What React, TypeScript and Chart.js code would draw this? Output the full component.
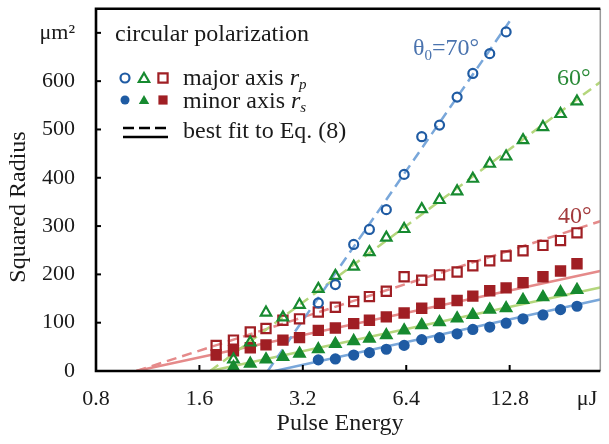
import React, { useEffect, useRef } from 'react';
import { Chart, registerables } from 'chart.js';

Chart.register(...registerables);

// Pulse energies (μJ) of the measurement points
const energy = [1.79, 2.01, 2.25, 2.5, 2.8, 3.13, 3.55, 3.98, 4.5, 5.0, 5.6, 6.31, 7.1, 8.0, 9.0, 10.0, 11.2, 12.5, 14.0, 16.0, 18.0, 20.1];

// θ0 = 40°, starting at energy index 0
const major40 = [53, 64, 81, 88, 105, 108, 122, 132, 144, 154, 165, 195, 188, 199, 205, 218, 228, 238, 249, 260, 270, 286];
const minor40 = [33, 42, 48, 54, 64, 69, 84, 89, 98, 105, 112, 120, 130, 140, 146, 155, 166, 172, 183, 195, 207, 222];
// θ0 = 60°, starting at energy index 1
const major60 = [24, 59, 121, 111, 137, 170, 197, 216, 246, 276, 294, 335, 354, 372, 398, 429, 444, 478, 505, 532, 558];
const minor60 = [8, 15, 24, 29, 36, 45, 56, 62, 67, 74, 84, 95, 101, 109, 116, 127, 130, 147, 153, 163, 168];
// θ0 = 70°, starting at energy index 6
const major70 = [141, 179, 262, 293, 334, 407, 485, 509, 567, 616, 657, 702];
const minor70 = [23, 25, 33, 38, 45, 53, 65, 69, 77, 86, 91, 99, 108, 116, 127, 134];

const start40 = 0;
const start60 = 1;
const start70 = 6;

// Best-fit lines (end points)
const fit40pX = [1.049, 23.5];
const fit40pY = [0, 310];
const fit40sX = [1.049, 23.5];
const fit40sY = [0, 207];
const fit60pX = [1.72, 23.5];
const fit60pY = [0, 598];
const fit60sX = [1.72, 23.5];
const fit60sY = [0, 173];
const fit70pX = [2.53, 12.8];
const fit70pY = [0, 724];
const fit70sX = [2.65, 23.5];
const fit70sY = [0, 148];

const xTickValues = [0.8, 1.6, 3.2, 6.4, 12.8, 21.5];
const xTickLabels = ['0.8', '1.6', '3.2', '6.4', '12.8', 'μJ'];
const yTickValues = [0, 100, 200, 300, 400, 500, 600, 700];
const yTickLabels = ['0', '100', '200', '300', '400', '500', '600', 'μm²'];

const FONT = '"Liberation Serif", "Times New Roman", serif';

const BLUE = '#1f5ba3';
const GREEN = '#178a30';
const RED = '#a01f24';
const BLUE_L = '#79a7da';
const GREEN_L = '#b4d67c';
const RED_L = '#e58a8a';

function pts(start: number, values: number[]) {
  return values.map((v, i) => ({ x: energy[start + i], y: v }));
}
function line(xs: number[], ys: number[]) {
  return xs.map((x, i) => ({ x, y: ys[i] }));
}

function drawMarker(ctx: CanvasRenderingContext2D, style: string, x: number, y: number, color: string, filled: boolean) {
  ctx.save();
  ctx.lineWidth = 2.2;
  ctx.strokeStyle = color;
  ctx.fillStyle = color;
  ctx.beginPath();
  if (style === 'circle') {
    ctx.arc(x, y, 4.5, 0, Math.PI * 2);
  } else if (style === 'triangle') {
    const r = 6;
    ctx.moveTo(x, y - r);
    ctx.lineTo(x + r * 0.866, y + r / 2);
    ctx.lineTo(x - r * 0.866, y + r / 2);
    ctx.closePath();
  } else {
    const s = 6.5 * Math.SQRT1_2;
    ctx.rect(x - s, y - s, 2 * s, 2 * s);
  }
  if (filled) ctx.fill();
  else ctx.stroke();
  ctx.restore();
}

function zeroPadding(scale: any) {
  scale.paddingTop = 0;
  scale.paddingBottom = 0;
  scale.paddingLeft = 0;
  scale.paddingRight = 0;
}

const decor = {
  id: 'decor',
  afterDatasetsDraw(chart: any) {
    const { ctx, chartArea, scales } = chart;
    const { left, right, top, bottom } = chartArea;
    const x = scales.x;
    const y = scales.y;
    ctx.save();
    // inner tick marks
    ctx.strokeStyle = '#000';
    ctx.lineWidth = 2;
    xTickValues.forEach((v, i) => {
      if (i === 0 || xTickLabels[i] === 'μJ') return;
      const px = x.getPixelForValue(v);
      ctx.beginPath();
      ctx.moveTo(px, bottom);
      ctx.lineTo(px, bottom - 6);
      ctx.stroke();
    });
    yTickValues.forEach((v, i) => {
      if (i === 0) return;
      const py = y.getPixelForValue(v);
      ctx.beginPath();
      ctx.moveTo(left, py);
      ctx.lineTo(left + 5, py);
      ctx.stroke();
    });
    // frame
    ctx.strokeStyle = '#999';
    ctx.lineWidth = 1.5;
    ctx.beginPath();
    ctx.moveTo(right, top);
    ctx.lineTo(right, bottom);
    ctx.stroke();
    ctx.strokeStyle = '#000';
    ctx.lineWidth = 2.6;
    ctx.beginPath();
    ctx.moveTo(right, top);
    ctx.lineTo(left, top);
    ctx.lineTo(left, bottom);
    ctx.lineTo(right, bottom);
    ctx.stroke();

    // legend
    ctx.fillStyle = '#1a1a1a';
    ctx.textBaseline = 'alphabetic';
    ctx.textAlign = 'left';
    ctx.font = `24px ${FONT}`;
    ctx.fillText('circular polarization', 115, 41);

    drawMarker(ctx, 'circle', 125, 78, BLUE, false);
    drawMarker(ctx, 'triangle', 144, 79, GREEN, false);
    drawMarker(ctx, 'rect', 163, 78, RED, false);
    drawMarker(ctx, 'circle', 125, 100, BLUE, true);
    drawMarker(ctx, 'triangle', 144, 101, GREEN, true);
    drawMarker(ctx, 'rect', 163, 100, RED, true);

    const rows: [string, string, number][] = [['major axis ', 'p', 85], ['minor axis ', 's', 108]];
    rows.forEach(([t, sub, by]) => {
      ctx.font = `24px ${FONT}`;
      ctx.fillText(t, 183, by);
      const w = ctx.measureText(t).width;
      ctx.font = `italic 24px ${FONT}`;
      ctx.fillText('r', 183 + w, by);
      const wr = ctx.measureText('r').width;
      ctx.font = `italic 15px ${FONT}`;
      ctx.fillText(sub, 183 + w + wr, by + 4);
    });
    ctx.font = `24px ${FONT}`;
    ctx.fillText('best fit to Eq. (8)', 183, 138);

    ctx.strokeStyle = '#000';
    ctx.lineWidth = 2.5;
    ctx.setLineDash([11, 5]);
    ctx.beginPath();
    ctx.moveTo(123, 128);
    ctx.lineTo(168, 128);
    ctx.stroke();
    ctx.setLineDash([]);
    ctx.beginPath();
    ctx.moveTo(123, 137);
    ctx.lineTo(168, 137);
    ctx.stroke();

    // annotations
    ctx.fillStyle = '#4a73ae';
    ctx.font = `24px ${FONT}`;
    ctx.fillText('θ', 413, 55);
    let ax = 413 + ctx.measureText('θ').width;
    ctx.font = `15px ${FONT}`;
    ctx.fillText('0', ax, 60);
    ax += ctx.measureText('0').width;
    ctx.font = `24px ${FONT}`;
    ctx.fillText('=70°', ax, 55);

    ctx.fillStyle = '#2a8a38';
    ctx.fillText('60°', 557, 85);
    ctx.fillStyle = '#a33a3c';
    ctx.fillText('40°', 558, 223);
    ctx.restore();
  },
  afterDraw(chart: any) {
    const { ctx } = chart;
    ctx.save();
    ctx.fillStyle = '#1a1a1a';
    ctx.font = `24px ${FONT}`;
    ctx.textAlign = 'center';
    ctx.textBaseline = 'middle';
    ctx.fillText('Pulse Energy', 340, 424);
    ctx.translate(19, 207);
    ctx.rotate(-Math.PI / 2);
    ctx.fillText('Squared Radius', 0, 0);
    ctx.restore();
  },
};

export default function App() {
  const ref = useRef<HTMLCanvasElement | null>(null);
  useEffect(() => {
    if (!ref.current) return;
    const markerBase = { showLine: false, pointBorderWidth: 2.2, order: 0 };
    const fitBase = { showLine: true, pointRadius: 0, borderWidth: 2.5, order: 10, fill: false };
    const chart = new Chart(ref.current, {
      type: 'scatter',
      data: {
        datasets: [
          { ...markerBase, label: '70 major', data: pts(start70, major70), pointStyle: 'circle', pointRadius: 4.5, borderColor: BLUE, backgroundColor: 'rgba(255,255,255,0)' },
          { ...markerBase, label: '70 minor', data: pts(start70, minor70), pointStyle: 'circle', pointRadius: 4.5, borderColor: BLUE, backgroundColor: BLUE },
          { ...markerBase, label: '60 major', data: pts(start60, major60), pointStyle: 'triangle', pointRadius: 6, borderColor: GREEN, backgroundColor: 'rgba(255,255,255,0)' },
          { ...markerBase, label: '60 minor', data: pts(start60, minor60), pointStyle: 'triangle', pointRadius: 6, borderColor: GREEN, backgroundColor: GREEN },
          { ...markerBase, label: '40 major', data: pts(start40, major40), pointStyle: 'rect', pointRadius: 6.5, borderColor: RED, backgroundColor: 'rgba(255,255,255,0)' },
          { ...markerBase, label: '40 minor', data: pts(start40, minor40), pointStyle: 'rect', pointRadius: 6.5, borderColor: RED, backgroundColor: RED },
          { ...fitBase, label: 'fit 70 p', data: line(fit70pX, fit70pY), borderColor: BLUE_L, borderDash: [10, 6] },
          { ...fitBase, label: 'fit 70 s', data: line(fit70sX, fit70sY), borderColor: BLUE_L },
          { ...fitBase, label: 'fit 60 p', data: line(fit60pX, fit60pY), borderColor: GREEN_L, borderDash: [10, 6] },
          { ...fitBase, label: 'fit 60 s', data: line(fit60sX, fit60sY), borderColor: GREEN_L },
          { ...fitBase, label: 'fit 40 p', data: line(fit40pX, fit40pY), borderColor: RED_L, borderDash: [10, 6] },
          { ...fitBase, label: 'fit 40 s', data: line(fit40sX, fit40sY), borderColor: RED_L },
        ] as any,
      },
      options: {
        animation: false,
        responsive: true,
        maintainAspectRatio: false,
        events: [],
        layout: { padding: { top: 8, right: 2, left: 0, bottom: 0 } },
        plugins: { legend: { display: false }, tooltip: { enabled: false } },
        scales: {
          x: {
            type: 'logarithmic',
            min: 0.8,
            max: 23.5,
            grid: { display: false, drawTicks: false },
            border: { display: false },
            afterBuildTicks: (scale: any) => {
              scale.ticks = xTickValues.map((v) => ({ value: v }));
            },
            afterFit: (scale: any) => {
              scale.height = 73;
              zeroPadding(scale);
            },
            ticks: {
              autoSkip: false,
              maxRotation: 0,
              minRotation: 0,
              padding: 15,
              color: '#1a1a1a',
              font: { family: FONT, size: 22 },
              callback: (_v: any, i: number) => xTickLabels[i],
            },
          },
          y: {
            type: 'linear',
            min: 0,
            max: 750,
            grid: { display: false, drawTicks: false },
            border: { display: false },
            afterBuildTicks: (scale: any) => {
              scale.ticks = yTickValues.map((v) => ({ value: v }));
            },
            afterFit: (scale: any) => {
              scale.width = 96;
              zeroPadding(scale);
            },
            ticks: {
              autoSkip: false,
              padding: 21,
              color: '#1a1a1a',
              font: { family: FONT, size: 22 },
              callback: (_v: any, i: number) => yTickLabels[i],
            },
          },
        },
      } as any,
      plugins: [decor],
    });
    return () => chart.destroy();
  }, []);
  return (
    <div style={{ position: 'fixed', left: 0, top: 0, width: 609, height: 444, background: '#fff' }}>
      <canvas ref={ref} />
    </div>
  );
}
